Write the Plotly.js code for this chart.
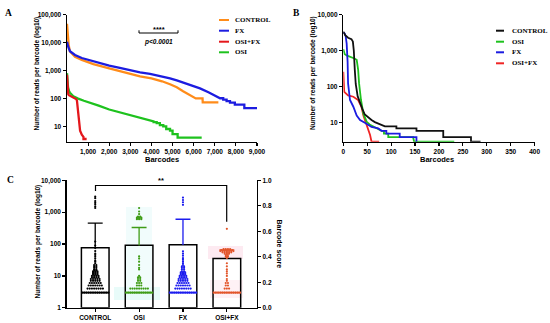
<!DOCTYPE html>
<html><head><meta charset="utf-8">
<script src="https://cdn.plot.ly/plotly-3.0.1.min.js"></script>
<style>html,body{margin:0;padding:0;background:#fff}#chart{width:550px;height:323px}</style>
</head><body><div id="chart"></div>
<script>
// ---------- Panel A: reads per barcode vs barcode rank ----------
const aControlX = [0,20,50,80,140,380,700,1000,1250,2000,2500,3000,3460,4000,4500,4880,5200,5500,5700,5900,6060,6100,6420,6430,7170];
const aControlY = [47000,25000,12000,8000,4800,3100,2400,2000,1700,1200,950,760,620,520,410,320,250,180,150,125,110,100,100,72,72];
const aFxX = [0,20,60,140,380,700,1000,1250,2000,2500,3000,3460,3932,4500,4880,5200,5510,5900,6300,6700,7090,7250,7400,7400,7560,7560,7720,7720,7950,7950,8400,8400,9060];
const aFxY = [10700,8500,7000,4900,3600,2800,2400,2100,1500,1230,1000,850,750,620,525,440,366,290,229,165,122,101,101,90,90,80,80,70,70,60,60,45,45];
const aOsiFxX = [0,10,30,60,90,200,300,380,430,470,500,520,550,570,620,700,780,780,930];
const aOsiFxY = [700,400,200,140,130,120,110,100,95,85,50,25,14,10,7,5,4.2,3.5,3.5];
const aOsiX = [0,20,50,100,140,300,500,800,1090,1500,2000,2500,3000,3460,3932,4100,4100,4250,4250,4400,4400,4560,4560,4700,4700,4880,4880,5000,5000,5240,5240,6380];
const aOsiY = [800,400,250,180,160,120,100,82,71,55,40,32,26,21,17,15,14,14,13,13,11,11,10,10,8,8,7,7,5.2,5.2,3.9,3.9];
const aSeries = ['CONTROL','FX','OSI+FX','OSI'];
const aColors = ['#ff8c1a','#1c1ce0','#e4171c','#1ec21e'];
const aXTicks = [1000,2000,3000,4000,5000,6000,7000,8000,9000];
const aXTickText = ['1,000','2,000','3,000','4,000','5,000','6,000','7,000','8,000','9,000'];
const aYTicks = [10,100,1000,10000,100000];
const aYTickText = ['10','100','1,000','10,000','100,000'];

// ---------- Panel B ----------
const bControlX = [0,4,10,17,20,22,24,26,30,35,40,45,52,59,66,73,80,87,111,111,153,153,209,209,267,267,287];
const bControlY = [3400,2700,2300,2100,1800,1000,300,120,55,35,24,17,14,12,10.5,9.5,9,8,8,7,7,6,6,4,4,3,3];
const bOsiX = [0,3,8,15,22,28,31,33,37,42,49,55,59,65,70,80,85,85,94,94,146,148,232];
const bOsiY = [1100,800,730,680,620,560,300,124,43,18,10.7,9,8.5,7.5,7,6,6,5,5,4,4,3,3];
const bFxX = [0,3,5,7,9,10,14,21,28,35,45,59,73,80,90,90,118,118,153,153];
const bFxY = [3200,3000,2500,1600,500,124,43,28,16,12,10,7.7,7,6,6,5,5,4,4,3];
const bOsiFxX = [0,1,2,10,21,31,38,42,49,56,59,75];
const bOsiFxY = [260,120,72,58,53,43,28,16,8.7,4.6,3,3];
const bSeries = ['CONTROL','OSI','FX','OSI+FX'];
const bColors = ['#111111','#1ec21e','#1c1ce0','#f02424'];
const bXTicks = [0,50,100,150,200,250,300,350,400];
const bYTicks = [10,100,1000,10000];
const bYTickText = ['10','100','1,000','10,000'];

// ---------- Panel C ----------
const cCategories = ['CONTROL','OSI','FX','OSI+FX'];
const cMeans = [75,90,94,34];
const cUpper = [455,330,600,66];
const cMedians = [3,3,3,3];
const cColors = ['#000000','#3f9c16','#1c1cee','#e2552a'];
const cControlVals = [3,4,5,6,7,8,9,10,11,12,13,14,15,16,18,20,22,25,28,30,35,40,45,50,60,75,90,120,1350,1510,1780,2000,2240,2750,3090];
const cControlCounts = [13,8,7,6,5,5,4,4,3,3,3,3,2,2,2,2,2,1,1,1,1,1,1,1,1,1,1,1,1,1,1,1,1,1,1];
const cOsiVals = [3,4,5,6,7,8,9,10,16,18,22,28,35,41,600,640,680,720,870,1050,1350];
const cOsiCounts = [13,9,3,3,2,2,2,1,1,1,1,1,1,1,3,3,3,2,1,1,1];
const cFxVals = [3,4,5,6,7,8,9,10,11,12,13,14,16,18,20,22,25,28,32,36,43,50,59,1700,2050,2410,2870];
const cFxCounts = [13,8,7,6,5,5,4,4,3,3,3,2,2,2,2,1,1,1,1,1,1,1,1,1,1,1,1];
const cOsiFxVals = [3,4,5,6,7,8,10,12,14,16,20,25,37,40,45,50,55,60,65,70,300];
const cOsiFxCounts = [13,3,2,2,1,1,1,1,1,1,1,1,1,2,2,3,5,7,6,4,1];
const cYTicks = [1,10,100,1000,10000];
const cYTickText = ['1','10','100','1,000','10,000'];
const cScoreTicks = [0,0.2,0.4,0.6,0.8,1.0];

// ---------- build ----------
const W = 550, H = 323;
const px = x => x / W, py = y => 1 - y / H;
const sans = 'Liberation Sans, Arial, sans-serif';
const serif = 'Liberation Serif, Times New Roman, serif';
const traces = [];
function line(x, y, color, xa, ya, w) {
  return {type:'scatter', mode:'lines', x:x, y:y, xaxis:xa, yaxis:ya,
          line:{color:color, width:w || 2.2}, showlegend:false, hoverinfo:'skip'};
}
// A
[[aControlX,aControlY,0],[aFxX,aFxY,1],[aOsiX,aOsiY,3],[aOsiFxX,aOsiFxY,2]].forEach(d => {
  traces.push(line(d[0], d[1], aColors[d[2]], 'x', 'y', 2.3));
});
// B
[[bOsiFxX,bOsiFxY,3],[bOsiX,bOsiY,1],[bFxX,bFxY,2],[bControlX,bControlY,0]].forEach(d => {
  traces.push(line(d[0], d[1], bColors[d[2]], 'x2', 'y2', 1.8));
});
// C bars
const barW = 0.63;
cCategories.forEach((c,i) => {
  traces.push({type:'bar', x:[i], y:[cMeans[i]], base:[1], width:[barW], xaxis:'x3', yaxis:'y3',
    marker:{color:'rgba(255,255,255,0)', line:{color:'#000', width:1.5}}, showlegend:false, hoverinfo:'skip'});
});
// C points (rows of dots spread around category centre)
const groups = [[cControlVals,cControlCounts],[cOsiVals,cOsiCounts],[cFxVals,cFxCounts],[cOsiFxVals,cOsiFxCounts]];
const dotStep = 0.05;
groups.forEach((g,i) => {
  const xs = [], ys = [];
  g[0].forEach((v,j) => {
    const n = g[1][j];
    for (let k = 0; k < n; k++) { xs.push(i + (k - (n-1)/2) * dotStep); ys.push(v); }
  });
  traces.push({type:'scatter', mode:'markers', x:xs, y:ys, xaxis:'x3', yaxis:'y3',
    marker:{color:cColors[i], size:2.2}, showlegend:false, hoverinfo:'skip'});
});
// C median lines and error bars (upper SD)
cCategories.forEach((c,i) => {
  traces.push(line([i-barW/2, i+barW/2], [cMedians[i], cMedians[i]], cColors[i], 'x3', 'y3', 1.6));
  traces.push(line([i, i, null, i-0.17, i+0.17], [cMeans[i], cUpper[i], null, cUpper[i], cUpper[i]], cColors[i], 'x3', 'y3', 1.3));
});
// secondary (barcode score) axis holder
traces.push({type:'scatter', mode:'markers', x:[0], y:[0], xaxis:'x3', yaxis:'y4',
  marker:{opacity:0, size:1}, showlegend:false, hoverinfo:'skip'});

const tickFont = {family:sans, size:6.5, color:'#000', weight:'bold'};
const ax = {showline:true, linecolor:'#000', linewidth:1.5, ticks:'outside', ticklen:3, tickwidth:1.2,
            tickcolor:'#000', showgrid:false, zeroline:false, tickfont:tickFont, fixedrange:true};
const dA_x = [px(67), px(257)], dAB_y = [py(141.7), py(14.7)];
const dB_x = [px(343.3), px(534.6)];
const dC_x = [px(66.7), px(256.7)], dC_y = [py(307.8), py(180.3)];

const shapes = [], annotations = [];
function ann(text, x, y, o) {
  annotations.push(Object.assign({text:text, x:px(x), y:py(y), xref:'paper', yref:'paper', showarrow:false,
    xanchor:'center', yanchor:'middle', font:{family:sans, size:6.5, color:'#000', weight:'bold'}}, o || {}));
}
function seg(pts, color, w) {
  shapes.push({type:'path', xref:'paper', yref:'paper',
    path: pts.map((p,i) => (i ? 'L' : 'M') + px(p[0]) + ',' + py(p[1])).join(' '),
    line:{color:color, width:w}});
}
function haze(x0, y0, x1, y1, color) {
  shapes.push({type:'rect', xref:'paper', yref:'paper', layer:'below', x0:px(x0), x1:px(x1), y0:py(y1), y1:py(y0),
    fillcolor:color, line:{width:0}});
}
// faint tinted halos behind the OSI and OSI+FX dot clouds
haze(126, 207, 152, 296, '#f1fcfc');
haze(114, 287, 160, 300, '#e8fbf9');
haze(208, 246, 243, 259, '#fdeaf1');
haze(210, 280, 243, 298, '#fef1f5');

// legends A
const aLegY = [20, 30.7, 41.7, 52.3];
aSeries.forEach((s,i) => {
  seg([[219,aLegY[i]],[229,aLegY[i]]], aColors[i], 2);
  ann(s, 232.7, aLegY[i], {xanchor:'left', font:{family:serif, size:7, color:'#000', weight:'bold'}});
});
const bLegY = [30.7, 41.7, 52.3, 63.3];
bSeries.forEach((s,i) => {
  seg([[496,bLegY[i]],[504,bLegY[i]]], bColors[i], 2);
  ann(s, 510, bLegY[i], {xanchor:'left', font:{family:serif, size:7, color:'#000', weight:'bold'}});
});
// titles
ann('Number of reads per barcode (log10)', 37, 73.5, {textangle:-90});
ann('Barcodes', 162, 159, {font:{family:sans, size:7.5, color:'#000', weight:'bold'}});
ann('Number of reads per barcode (log10)', 313, 73, {textangle:-90});
ann('Barcodes', 437, 159, {font:{family:sans, size:7.5, color:'#000', weight:'bold'}});
ann('Number of reads per barcode (log10)', 37, 241.5, {textangle:-90});
ann('Barcode score', 279, 243.5, {textangle:90, font:{family:sans, size:7, color:'#000', weight:'bold'}});
// panel letters
ann('A', 8, 13, {font:{family:serif, size:9.5, color:'#000', weight:'bold'}});
ann('B', 296, 13, {font:{family:serif, size:9.5, color:'#000', weight:'bold'}});
ann('C', 10, 180, {font:{family:serif, size:9.5, color:'#000', weight:'bold'}});
// significance A
seg([[139,30.3],[139,33],[178,33],[178,30.3]], '#000', 1);
ann('****', 158.5, 29, {font:{family:sans, size:7.5, color:'#000', weight:'bold'}});
ann('<i>p&lt;0.0001</i>', 158.5, 42.5, {font:{family:sans, size:6.5, color:'#000', weight:'bold'}});
// significance C
seg([[95.5,191],[95.5,185.5],[226.7,185.5],[226.7,221.7]], '#000', 1.2);
ann('**', 161, 180.5, {font:{family:sans, size:7.5, color:'#000', weight:'bold'}});

const layout = {
  width:W, height:H, margin:{l:0,r:0,t:0,b:0}, paper_bgcolor:'#fff', plot_bgcolor:'rgba(0,0,0,0)',
  showlegend:false, barmode:'overlay', font:{family:sans, color:'#000'},
  xaxis: Object.assign({}, ax, {domain:dA_x, anchor:'y', range:[0,9000], tickvals:aXTicks, ticktext:aXTickText}),
  yaxis: Object.assign({}, ax, {domain:dAB_y, anchor:'x', type:'log', range:[Math.log10(2.8),5.0001], tickvals:aYTicks, ticktext:aYTickText}),
  xaxis2: Object.assign({}, ax, {domain:dB_x, anchor:'y2', range:[0,400], tickvals:bXTicks}),
  yaxis2: Object.assign({}, ax, {domain:dAB_y, anchor:'x2', type:'log', range:[Math.log10(3),4.0001], tickvals:bYTicks, ticktext:bYTickText}),
  xaxis3: Object.assign({}, ax, {domain:dC_x, anchor:'y3', range:[-0.65,3.68], tickvals:[0,1,2,3], ticktext:cCategories}),
  yaxis3: Object.assign({}, ax, {domain:dC_y, anchor:'x3', type:'log', range:[0,4.0001], tickvals:cYTicks, ticktext:cYTickText}),
  yaxis4: Object.assign({}, ax, {domain:dC_y, anchor:'x3', overlaying:'y3', side:'right', range:[0,1.0001], tickvals:cScoreTicks, ticktext:cScoreTicks.map(v => v.toFixed(1))}),
  shapes:shapes, annotations:annotations
};
Plotly.newPlot('chart', traces, layout, {staticPlot:true, displayModeBar:false});
</script></body></html>
